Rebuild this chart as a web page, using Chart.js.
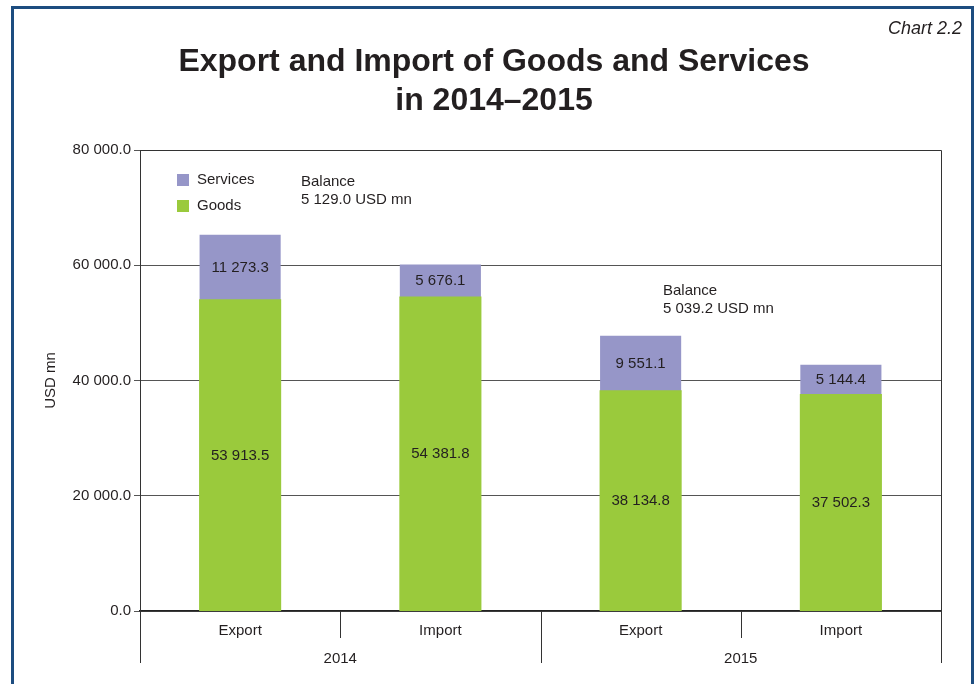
<!DOCTYPE html>
<html>
<head>
<meta charset="utf-8">
<script src="https://cdn.jsdelivr.net/npm/chart.js@4/dist/chart.umd.min.js"></script>
<style>
  html, body { margin: 0; padding: 0; background: #fff; }
  #wrap { position: relative; width: 979px; height: 684px; overflow: hidden; }
  #frame {
    position: absolute; left: 11px; top: 6px; width: 963px; height: 700px;
    border: 3px solid #1d4d80; box-sizing: border-box; pointer-events: none;
  }
  canvas { position: absolute; left: 0; top: 0; }
</style>
</head>
<body>
<div id="wrap">
  <canvas id="chart" width="979" height="684"></canvas>
  <div id="frame"></div>
</div>
<script>
const categories = ["Export", "Import", "Export", "Import"];
const years = ["2014", "2015"];
const goods = [53913.5, 54381.8, 38134.8, 37502.3];
const services = [11273.3, 5676.1, 9551.1, 5144.4];
const balances = ["5 129.0", "5 039.2"];
const yTicks = [0, 20000, 40000, 60000, 80000];

const FONT = "'Liberation Sans', Arial, sans-serif";
const TEXT = "#231f20";

// 12345.6 -> "12 345.6"
const fmt = (v) => {
  const [i, d] = v.toFixed(1).split(".");
  return i.replace(/\B(?=(\d{3})+(?!\d))/g, " ") + "." + d;
};

const ctx = document.getElementById("chart").getContext("2d");

const extrasPlugin = {
  id: "extras",
  afterDraw: (chart) => {
    const { ctx, chartArea, scales } = chart;
    const x = scales.x;
    const { left, right, top, bottom } = chartArea;

    ctx.save();

    // top and right edge of the plot box
    ctx.strokeStyle = "#333";
    ctx.lineWidth = 1;
    ctx.beginPath();
    ctx.moveTo(left, top + 0.5);
    ctx.lineTo(right + 0.5, top + 0.5);
    ctx.lineTo(right + 0.5, bottom);
    ctx.stroke();

    // category separators below the axis, longer ones between years
    for (let i = 0; i <= categories.length; i++) {
      const px = Math.round(x.getPixelForValue(i - 0.5)) + 0.5;
      const len = i % 2 === 0 ? 52 : 27;
      ctx.beginPath();
      ctx.moveTo(px, bottom);
      ctx.lineTo(px, bottom + len);
      ctx.stroke();
    }

    // year labels
    ctx.fillStyle = TEXT;
    ctx.font = "15px " + FONT;
    ctx.textAlign = "center";
    ctx.textBaseline = "middle";
    years.forEach((yr, g) => {
      const cx = (x.getPixelForValue(g * 2) + x.getPixelForValue(g * 2 + 1)) / 2;
      ctx.fillText(yr, cx, bottom + 48);
    });

    // values inside the bar segments
    chart.data.datasets.forEach((ds, di) => {
      chart.getDatasetMeta(di).data.forEach((bar, i) => {
        ctx.fillText(fmt(ds.data[i]), bar.x, (bar.y + bar.base) / 2);
      });
    });

    // legend
    const items = [
      { label: "Services", color: chart.data.datasets[1].backgroundColor },
      { label: "Goods", color: chart.data.datasets[0].backgroundColor },
    ];
    ctx.textAlign = "left";
    items.forEach((it, k) => {
      const ly = top + 30 + k * 26;
      ctx.fillStyle = it.color;
      ctx.fillRect(left + 37, ly - 6, 12, 12);
      ctx.fillStyle = TEXT;
      ctx.fillText(it.label, left + 57, ly);
    });

    // balance notes
    const notes = [
      { x: left + 161, y: top + 32 },
      { x: left + 523, y: top + 141 },
    ];
    notes.forEach((n, k) => {
      ctx.fillText("Balance", n.x, n.y);
      ctx.fillText(balances[k] + " USD mn", n.x, n.y + 18);
    });

    // headings
    ctx.font = "italic 18px " + FONT;
    ctx.textAlign = "right";
    ctx.fillText("Chart 2.2", 962, 29);
    ctx.font = "bold 32px " + FONT;
    ctx.textAlign = "center";
    ctx.fillText("Export and Import of Goods and Services", 494, 62);
    ctx.fillText("in 2014\u20132015", 494, 101);

    ctx.restore();
  },
};

new Chart(ctx, {
  type: "bar",
  data: {
    labels: categories,
    datasets: [
      {
        label: "Goods",
        data: goods,
        backgroundColor: "#9aca3c",
        categoryPercentage: 0.8,
        barPercentage: 0.5,
        inflateAmount: 1,
      },
      {
        label: "Services",
        data: services,
        backgroundColor: "#9696c8",
        categoryPercentage: 0.8,
        barPercentage: 0.5,
        inflateAmount: 0.5,
      },
    ],
  },
  options: {
    responsive: false,
    animation: false,
    layout: { padding: { top: 150, right: 38, left: 40, bottom: 0 } },
    plugins: {
      legend: { display: false },
      tooltip: { enabled: false },
    },
    scales: {
      x: {
        stacked: true,
        afterFit: (s) => { s.height = 73; },
        grid: { drawOnChartArea: false, drawTicks: false },
        border: { display: true, color: "#222", width: 1.5 },
        ticks: { color: TEXT, font: { family: FONT, size: 15 }, padding: 11 },
      },
      y: {
        stacked: true,
        min: 0,
        max: 80000,
        afterFit: (s) => { s.width = 100; },
        afterBuildTicks: (s) => { s.ticks = yTicks.map((v) => ({ value: v })); },
        grid: { color: "#555", tickLength: 6 },
        border: { display: true, color: "#333" },
        ticks: {
          color: TEXT,
          font: { family: FONT, size: 15 },
          padding: 3,
          callback: (v) => fmt(v),
        },
        title: {
          display: true,
          text: "USD mn",
          color: TEXT,
          font: { family: FONT, size: 15 },
          padding: 2,
        },
      },
    },
  },
  plugins: [extrasPlugin],
});
</script>
</body>
</html>
